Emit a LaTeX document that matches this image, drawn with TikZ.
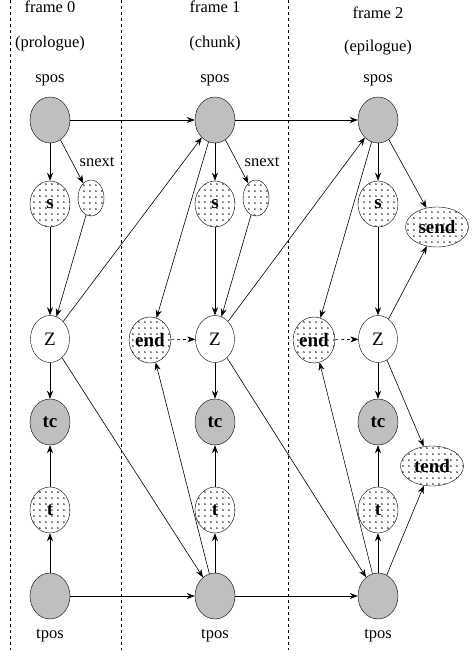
\documentclass[tikz,border=0pt]{standalone}
\usepackage{fontspec}
\setmainfont{Liberation Serif}
\usetikzlibrary{shapes.geometric,arrows.meta,patterns}
\pgfdeclarepatternformonly{sparsedots}{\pgfqpoint{0pt}{0pt}}{\pgfqpoint{5.5pt}{5.5pt}}{\pgfqpoint{5.5pt}{5.5pt}}{\pgfpathcircle{\pgfqpoint{1pt}{1pt}}{0.9pt}\pgfusepath{fill}}
\begin{document}
\begin{tikzpicture}[x=1pt,y=-1pt,
  font=\fontsize{16.5}{18}\selectfont,
  gnode/.style={ellipse,draw,fill=black!25,minimum width=40pt,minimum height=46pt,inner sep=0pt,font=\fontsize{19}{21}\selectfont\bfseries},
  dnode/.style={ellipse,draw,pattern=sparsedots,minimum width=40pt,minimum height=46pt,inner sep=0pt,font=\fontsize{19}{21}\selectfont\bfseries},
  smallnode/.style={ellipse,draw,pattern=sparsedots,minimum width=26pt,minimum height=36pt,inner sep=0pt},
  widenode/.style={ellipse,draw,pattern=sparsedots,minimum width=63pt,minimum height=40pt,inner sep=0pt,font=\fontsize{19}{21}\selectfont\bfseries},
  znode/.style={ellipse,draw,minimum width=39pt,minimum height=47pt,inner sep=0pt,font=\fontsize{19}{21}\selectfont},
  txt/.style={inner sep=0pt},
  arr/.style={-{Stealth[length=8pt,width=6pt,inset=2.5pt]},semithick},
  sep/.style={dash pattern=on 3pt off 3pt,thin}
]
\useasboundingbox (0,0) rectangle (472,656);
% separators
\coordinate (l1a) at (10,0); \coordinate (l1b) at (10,650);
\coordinate (l2a) at (121,0); \coordinate (l2b) at (121,650);
\coordinate (l3a) at (288,0); \coordinate (l3b) at (288,650);
\draw[sep] (l1a) -- (l1b);
\draw[sep] (l2a) -- (l2b);
\draw[sep] (l3a) -- (l3b);
% headings
\node[txt] (f0) at (50,7) {frame 0};
\node[txt] (p0) at (50,44) {(prologue)};
\node[txt] (f1) at (215,7) {frame 1};
\node[txt] (p1) at (215,44) {(chunk)};
\node[txt] (f2) at (378,13) {frame 2};
\node[txt] (p2) at (378,48) {(epilogue)};
\node[txt] (sl0) at (50,80) {spos};
\node[txt] (sl1) at (215,80) {spos};
\node[txt] (sl2) at (378,80) {spos};
\node[txt] (tl0) at (50,636) {tpos};
\node[txt] (tl1) at (215,636) {tpos};
\node[txt] (tl2) at (378,636) {tpos};
\node[txt] (nl0) at (97,162) {snext};
\node[txt] (nl1) at (262,162) {snext};
% column 0
\node[gnode] (spos0) at (50,120) {};
\node[dnode] (s0) at (50,204) {s};
\node[smallnode] (sn0) at (91,198) {};
\node[znode] (Z0) at (50,339) {Z};
\node[gnode] (tc0) at (50,422) {tc};
\node[dnode] (t0) at (50,510) {t};
\node[gnode] (tpos0) at (50,596) {};
% column 1
\node[gnode] (spos1) at (215,120) {};
\node[dnode] (s1) at (215,204) {s};
\node[smallnode] (sn1) at (256,198) {};
\node[dnode] (e1) at (150,340) {end};
\node[znode] (Z1) at (215,339) {Z};
\node[gnode] (tc1) at (215,422) {tc};
\node[dnode] (t1) at (215,510) {t};
\node[gnode] (tpos1) at (215,596) {};
% column 2
\node[gnode] (spos2) at (378,120) {};
\node[dnode] (s2) at (378,204) {s};
\node[widenode] (send) at (437,227) {send};
\node[dnode] (e2) at (314,340) {end};
\node[znode] (Z2) at (378,339) {Z};
\node[gnode] (tc2) at (378,422) {tc};
\node[widenode] (tend) at (432,466) {tend};
\node[dnode] (t2) at (378,510) {t};
\node[gnode] (tpos2) at (378,596) {};
% edges col 0
\draw[arr] (spos0) -- (s0);
\draw[arr] (spos0) -- (sn0);
\draw[arr] (s0) -- (Z0);
\draw[arr] (sn0) -- (Z0);
\draw[arr] (Z0) -- (tc0);
\draw[arr] (t0) -- (tc0);
\draw[arr] (tpos0) -- (t0);
\draw[arr] (spos0) -- (spos1);
\draw[arr] (tpos0) -- (tpos1);
\draw[arr] (Z0) -- (spos1);
\draw[arr] (Z0) -- (tpos1);
% edges col 1
\draw[arr] (spos1) -- (s1);
\draw[arr] (spos1) -- (sn1);
\draw[arr] (spos1) -- (e1);
\draw[arr] (s1) -- (Z1);
\draw[arr] (sn1) -- (Z1);
\draw[arr,dashed] (e1) -- (Z1);
\draw[arr] (Z1) -- (tc1);
\draw[arr] (t1) -- (tc1);
\draw[arr] (tpos1) -- (t1);
\draw[arr] (tpos1) -- (e1);
\draw[arr] (spos1) -- (spos2);
\draw[arr] (tpos1) -- (tpos2);
\draw[arr] (Z1) -- (spos2);
\draw[arr] (Z1) -- (tpos2);
% edges col 2
\draw[arr] (spos2) -- (s2);
\draw[arr] (spos2) -- (e2);
\draw[arr] (spos2) -- (send);
\draw[arr] (s2) -- (Z2);
\draw[arr] (Z2) -- (send);
\draw[arr,dashed] (e2) -- (Z2);
\draw[arr] (Z2) -- (tc2);
\draw[arr] (t2) -- (tc2);
\draw[arr] (tpos2) -- (t2);
\draw[arr] (tpos2) -- (e2);
\draw[arr] (Z2) -- (tend);
\draw[arr] (tpos2) -- (tend);
\end{tikzpicture}
\end{document}
